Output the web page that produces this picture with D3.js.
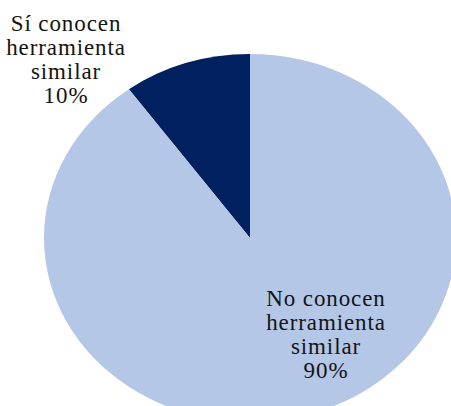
<!DOCTYPE html>
<html>
<head>
<meta charset="utf-8">
<script src="https://cdn.jsdelivr.net/npm/d3@7/dist/d3.min.js"></script>
<style>
  html, body { margin: 0; padding: 0; background: #ffffff; }
  svg { display: block; }
</style>
</head>
<body>
<svg id="chart" width="451" height="406"></svg>
<script>
// Survey answers: do respondents know a similar tool?
const categories = ["Sí conocen herramienta similar", "No conocen herramienta similar"];
const labelLines = [["Sí conocen", "herramienta", "similar"], ["No conocen", "herramienta", "similar"]];
const values = [10, 90];
const colors = ["#002060", "#B4C7E7"];

const svg = d3.select("#chart");
const cx = 250, cy = 238, rx = 206, ry = 184;

const data = categories.map((c, i) => ({ name: c, value: values[i], lines: labelLines[i], color: colors[i] }));

// Slices run counter-clockwise from 12 o'clock, so the small one sits on the upper left
const pie = d3.pie()
  .value(d => d.value)
  .sort(null)
  .startAngle(0)
  .endAngle(-2 * Math.PI);

const arc = d3.arc().innerRadius(0).outerRadius(ry);

const total = d3.sum(values);

// The plot is slightly wider than tall
const g = svg.append("g")
  .attr("transform", `translate(${cx},${cy}) scale(${rx / ry},1)`);

g.selectAll("path")
  .data(pie(data))
  .join("path")
  .attr("d", arc)
  .attr("fill", d => d.data.color);

// Data labels
const labelPos = [[66, 31], [326, 306]];
const lineH = 24;
const fmt = v => Math.round(v / total * 100) + "%";

data.forEach((d, i) => {
  const [lx, ly] = labelPos[i];
  const t = svg.append("text")
    .attr("font-family", "Liberation Serif")
    .attr("font-size", 23)
    .attr("letter-spacing", 0.9)
    .attr("fill", "#141414")
    .attr("text-anchor", "middle")
    .attr("transform", `translate(${lx},${ly})`);
  d.lines.concat([fmt(d.value)]).forEach((line, k) => {
    t.append("tspan").attr("x", 0).attr("y", k * lineH).text(line);
  });
});
</script>
</body>
</html>
